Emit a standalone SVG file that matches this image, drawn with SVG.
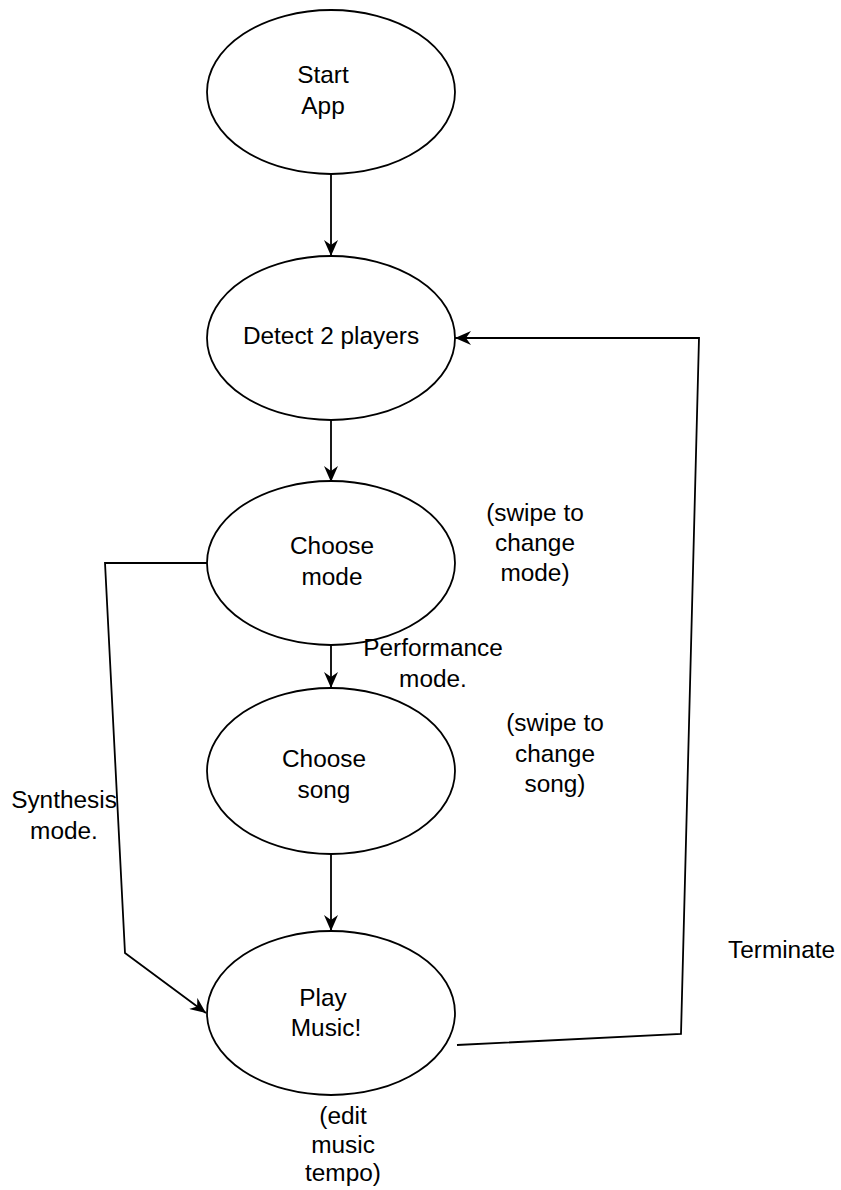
<svg xmlns="http://www.w3.org/2000/svg" width="841" height="1190" viewBox="0 0 841 1190">
<style>
.node ellipse{fill:#fff;stroke:#000;stroke-width:1.8}
text{font-family:"Liberation Sans",Arial,sans-serif;font-size:24.4px;fill:#000}
.c{text-anchor:middle}
.edge{fill:none;stroke:#000;stroke-width:1.8}
</style>
<defs>
<marker id="arr" markerUnits="userSpaceOnUse" markerWidth="16" markerHeight="14" viewBox="0 0 16 14" refX="16" refY="7" orient="auto">
<path d="M0,0 L16,7 L0,14 L5,7 Z" fill="#000"/>
</marker>
</defs>
<rect width="841" height="1190" fill="#fff"/>
<g id="connectors">
<path class="edge" d="M331,174 L331,256" marker-end="url(#arr)"/>
<path class="edge" d="M331,420 L331,482" marker-end="url(#arr)"/>
<path class="edge" d="M331,645 L331,688" marker-end="url(#arr)"/>
<path class="edge" d="M331,854 L331,931" marker-end="url(#arr)"/>
<path class="edge" d="M207,563 L105,563 L125,953 L206,1013" marker-end="url(#arr)"/>
<path class="edge" d="M457,1045 L681,1034 L699,338 L455,338" marker-end="url(#arr)"/>
</g>
<g id="start" class="node">
<ellipse cx="331" cy="92" rx="124" ry="82"/>
<text class="c" x="323" y="83">Start</text>
<text class="c" x="323" y="114">App</text>
</g>
<g id="detect" class="node">
<ellipse cx="331" cy="338" rx="124" ry="82"/>
<text class="c" x="331" y="344">Detect 2 players</text>
</g>
<g id="choosemode" class="node">
<ellipse cx="331" cy="563" rx="124" ry="82"/>
<text class="c" x="332" y="554">Choose</text>
<text class="c" x="332" y="585">mode</text>
</g>
<g id="choosesong" class="node">
<ellipse cx="331" cy="771" rx="124" ry="83"/>
<text class="c" x="324" y="767">Choose</text>
<text class="c" x="324" y="798">song</text>
</g>
<g id="play" class="node">
<ellipse cx="331" cy="1013" rx="124" ry="82"/>
<text class="c" x="323" y="1006">Play</text>
<text class="c" x="326" y="1036">Music!</text>
</g>
<g id="labels">
<text class="c" x="535" y="521">(swipe to</text>
<text class="c" x="535" y="551">change</text>
<text class="c" x="535" y="581">mode)</text>
<text class="c" x="433" y="656">Performance</text>
<text class="c" x="433" y="687">mode.</text>
<text class="c" x="555" y="731">(swipe to</text>
<text class="c" x="555" y="762">change</text>
<text class="c" x="555" y="792">song)</text>
<text class="c" x="64" y="808">Synthesis</text>
<text class="c" x="64" y="839">mode.</text>
<text x="728" y="958">Terminate</text>
<text class="c" x="343" y="1124">(edit</text>
<text class="c" x="343" y="1153">music</text>
<text class="c" x="343" y="1181">tempo)</text>
</g>
</svg>
